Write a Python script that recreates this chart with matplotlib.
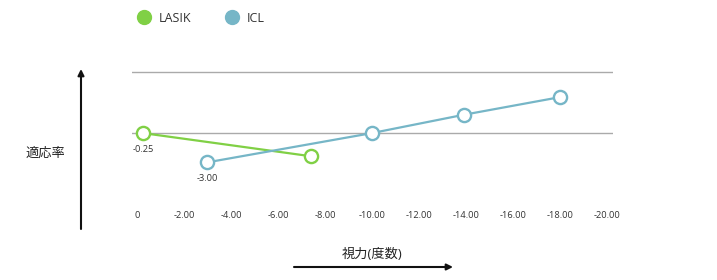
import matplotlib.pyplot as plt
from matplotlib.lines import Line2D

plt.rcParams['font.family'] = ['Open Sans', 'Noto Sans CJK JP', 'DejaVu Sans']

# data
lasik_x = [-0.25, -7.4]
lasik_y = [1.0, 0.62]
icl_x = [-3.0, -10.0, -13.9, -18.0]
icl_y = [0.52, 1.0, 1.3, 1.59]
x_ticks = [0, -2, -4, -6, -8, -10, -12, -14, -16, -18, -20]
x_ticklabels = ['0'] + ['%.2f' % v for v in x_ticks[1:]]
point_labels = [('-0.25', lasik_x[0], lasik_y[0]), ('-3.00', icl_x[0], icl_y[0])]

green = '#80d045'
blue = '#76b6c7'

W, H = 717, 280
fig = plt.figure(figsize=(W / 100, H / 100), dpi=100)
# axes box in pixels: left 132, right 613, top 60, bottom 208
ax = fig.add_axes([132 / W, 1 - 208 / H, 481 / W, 148 / H])
ax.set_xlim(0.213, -20.26)
ax.set_ylim(-0.23, 2.2)
for s in ax.spines.values():
    s.set_visible(False)

ax.set_yticks([1, 2])
ax.set_yticklabels([])
ax.tick_params(axis='y', length=0)
ax.grid(axis='y', color='#aaaaaa', lw=1)
ax.set_axisbelow(True)

ax.set_xticks(x_ticks)
ax.set_xticklabels(x_ticklabels, fontsize=6.7, color='#333333')
ax.tick_params(axis='x', length=0, pad=2.5)

ax.plot(lasik_x, lasik_y, color=green, lw=1.6, marker='o', ms=9.5,
        mfc='white', mec=green, mew=1.7, clip_on=False, zorder=3)
ax.plot(icl_x, icl_y, color=blue, lw=1.6, marker='o', ms=9.5,
        mfc='white', mec=blue, mew=1.7, clip_on=False, zorder=3)

for txt, x, y in point_labels:
    ax.annotate(txt, (x, y), xytext=(0, -12), textcoords='offset points',
                ha='center', va='center', fontsize=6.7, color='#333333')

# axis arrows
ax.annotate('', xy=(81 / W, 1 - 69 / H), xytext=(81 / W, 1 - 229 / H),
            xycoords='figure fraction', textcoords='figure fraction',
            arrowprops=dict(arrowstyle='-|>', color='#111111', lw=1.5,
                            mutation_scale=9, shrinkA=0, shrinkB=0))
ax.annotate('', xy=(453 / W, 1 - 267 / H), xytext=(294 / W, 1 - 267 / H),
            xycoords='figure fraction', textcoords='figure fraction',
            arrowprops=dict(arrowstyle='-|>', color='#111111', lw=1.5,
                            mutation_scale=9, shrinkA=0, shrinkB=0))

fig.text(45 / W, 1 - 153 / H, '適応率', ha='center', va='center',
         fontsize=9.5, color='#222222')
fig.text(372 / W, 1 - 254 / H, '視力(度数)', ha='center', va='center',
         fontsize=9.5, color='#222222')

handles = [Line2D([], [], ls='none', marker='o', ms=10, color=green),
           Line2D([], [], ls='none', marker='o', ms=10, color=blue)]
fig.legend(handles, ['LASIK', 'ICL'], loc='center left',
           bbox_to_anchor=(138 / W, 1 - 18 / H), ncol=2, frameon=False,
           fontsize=9, handlelength=1, handletextpad=0.68,
           columnspacing=2.7, borderpad=0, borderaxespad=0,
           labelcolor='#333333')

fig.savefig('out.png', dpi=100)
